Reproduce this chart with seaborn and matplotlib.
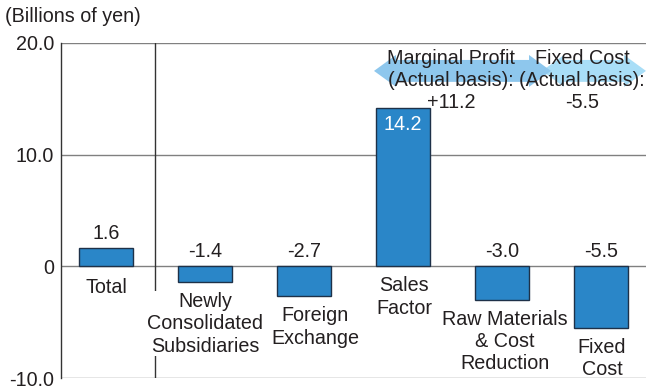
import numpy as np
import pandas as pd
import matplotlib
matplotlib.use("Agg")
import matplotlib.pyplot as plt
from matplotlib.patches import Polygon
import seaborn as sns

categories = ["Total", "Newly\nConsolidated\nSubsidiaries", "Foreign\nExchange",
              "Sales\nFactor", "Raw Materials\n& Cost\nReduction", "Fixed\nCost"]
values = [1.6, -1.4, -2.7, 14.2, -3.0, -5.5]
value_labels = ["1.6", "-1.4", "-2.7", "14.2", "-3.0", "-5.5"]
yticks = [-10, 0, 10, 20]
ytick_labels = ["-10.0", "0", "10.0", "20.0"]
unit_label = "(Billions of yen)"
note_margin = "Marginal Profit\n(Actual basis):\n+11.2"
note_fixed = "Fixed Cost\n(Actual basis):\n-5.5"

sns.set_style("white")
plt.rcParams['font.family'] = ['Liberation Sans', 'DejaVu Sans']
TXT = "#231f20"
FS = 14.2
LS = 1.22

fig = plt.figure(figsize=(6.46, 3.9), dpi=100)
ax = fig.add_axes([61/646, 12/390, 585/646, 335/390])

df = pd.DataFrame({"cat": categories, "val": values})
sns.barplot(data=df, x="cat", y="val", color="#2a86c8", width=0.545,
            edgecolor="#1e3148", linewidth=1.0, saturation=1, ax=ax, zorder=3)

ax.set_xlim(-0.4545, 5.4545)
ax.set_ylim(-10, 20)
ax.set_yticks(yticks)
ax.set_yticklabels(ytick_labels, fontsize=FS, color=TXT)
ax.tick_params(axis='y', length=0, pad=5)
ax.set_xticks([])
ax.set_xlabel("")
ax.set_ylabel("")
for y in yticks:
    ax.axhline(y, color="#808080", lw=1.0, zorder=1)
for s in ["top", "right", "bottom"]:
    ax.spines[s].set_visible(False)
ax.spines["left"].set_color("#333333")
ax.spines["left"].set_linewidth(1.0)
ax.axvline(0.5, color="#333333", lw=1.0, zorder=1)

# value and category labels
label_dx = [0, 0, 11, 1, 3, 1]
for i, (v, lab, cat) in enumerate(zip(values, value_labels, categories)):
    if v > 10:
        ax.annotate(lab, (i, v), xytext=(0, -22), textcoords="offset pixels",
                    ha="center", va="baseline", fontsize=FS, color="white", zorder=5)
    else:
        ax.annotate(lab, (i, max(v, 0)), xytext=(0, 9), textcoords="offset pixels",
                    ha="center", va="baseline", fontsize=FS, color=TXT, zorder=5)
    dy = -12 if v > 0 and i == 0 else -10
    kw = {}
    if i == 1:
        kw["bbox"] = dict(facecolor="white", edgecolor="none", pad=0.5)
    ax.annotate(cat, (i, min(v, 0)), xytext=(label_dx[i], dy), textcoords="offset pixels",
                ha="center", va="top", fontsize=FS, color=TXT, linespacing=LS,
                zorder=5, **kw)

# arrows (annotation shapes)
def xd(px):
    return (px - 61) / 99 - 0.4545

def yd(py):
    return (267 - py) / 11.2

def double_arrow(x0, x1, yc, hh, bh, hl):
    return [(x0, yc), (x0 + hl, yc + hh), (x0 + hl, yc + bh), (x1 - hl, yc + bh),
            (x1 - hl, yc + hh), (x1, yc), (x1 - hl, yc - hh), (x1 - hl, yc - bh),
            (x0 + hl, yc - bh), (x0 + hl, yc - hh)]

yc = yd(71)
hh = 16 / 11.2
bh = 11 / 11.2
hl = 22 / 99
ax.add_patch(Polygon(double_arrow(xd(542), xd(646), yc, hh, bh, hl),
                     closed=True, facecolor="#a9def7", edgecolor="none", zorder=2, clip_on=False))
ax.add_patch(Polygon(double_arrow(xd(374), xd(551), yc, hh, bh, hl),
                     closed=True, facecolor="#8ec7ed", edgecolor="none", zorder=2.5, clip_on=False))

ax.text(xd(451), yd(81), note_margin, ha="center", va="center", fontsize=FS,
        color=TXT, linespacing=1.2, zorder=6)
ax.text(xd(582), yd(81), note_fixed, ha="center", va="center", fontsize=FS,
        color=TXT, linespacing=1.2, zorder=6)

fig.text(5/646, 1 - 17/390, unit_label, ha="left", va="center", fontsize=FS, color=TXT)

fig.savefig("out.png", dpi=100)
